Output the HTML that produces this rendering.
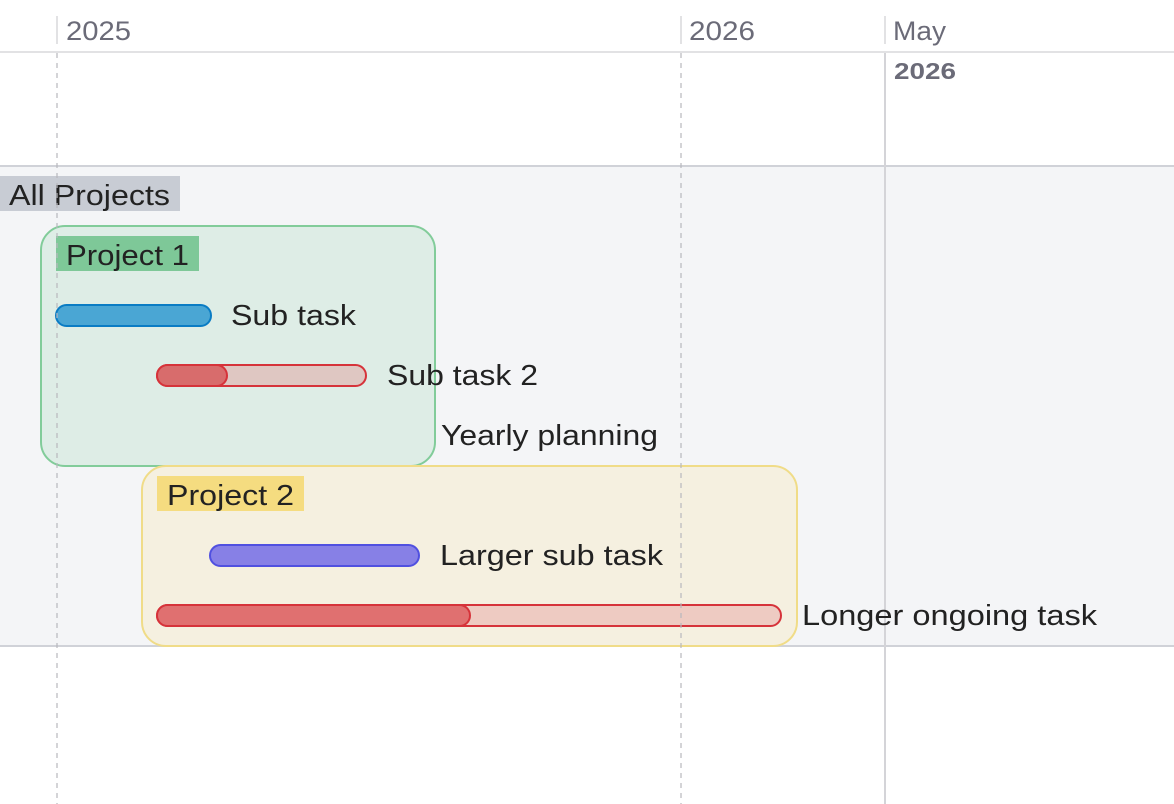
<!DOCTYPE html>
<html><head><meta charset="utf-8"><style>
html,body{margin:0;padding:0;background:#fff;}
svg{display:block;font-family:"Liberation Sans",sans-serif;}
</style></head><body>
<svg width="1174" height="804" viewBox="0 0 1174 804" xmlns="http://www.w3.org/2000/svg">
<rect x="0" y="166" width="1174" height="480" fill="#f4f5f7"/>
<line x1="0" y1="52" x2="1174" y2="52" stroke="#e2e2e4" stroke-width="2"/>
<line x1="0" y1="166" x2="1174" y2="166" stroke="#d0d2d8" stroke-width="2"/>
<line x1="0" y1="646" x2="1174" y2="646" stroke="#d0d2d8" stroke-width="2"/>
<line x1="57" y1="16" x2="57" y2="44" stroke="#e2e2e4" stroke-width="2"/>
<line x1="681" y1="16" x2="681" y2="44" stroke="#e2e2e4" stroke-width="2"/>
<line x1="885" y1="16" x2="885" y2="44" stroke="#e2e2e4" stroke-width="2"/>
<text x="66" y="40" font-size="27" fill="#6b6b78" textLength="65" lengthAdjust="spacingAndGlyphs">2025</text>
<text x="689" y="40" font-size="27" fill="#6b6b78" textLength="66" lengthAdjust="spacingAndGlyphs">2026</text>
<text x="893" y="40" font-size="27" fill="#6b6b78" textLength="53" lengthAdjust="spacingAndGlyphs">May</text>
<text x="894" y="79" font-size="23" font-weight="bold" fill="#6b6b78" textLength="62" lengthAdjust="spacingAndGlyphs">2026</text>
<line x1="885" y1="53" x2="885" y2="804" stroke="#d4d4d8" stroke-width="2"/>

<rect x="0" y="176" width="180" height="35" fill="#c8ccd4"/>
<text x="9" y="205" font-size="29" fill="#222" textLength="161" lengthAdjust="spacingAndGlyphs">All Projects</text>

<rect x="41" y="226" width="394" height="240" rx="24" fill="#deede6" stroke="#82cc9a" stroke-width="2"/>
<rect x="56" y="236" width="143" height="35" fill="#7ec898"/>
<text x="66" y="265" font-size="29" fill="#222" textLength="123" lengthAdjust="spacingAndGlyphs">Project 1</text>
<rect x="56" y="305" width="155" height="21" rx="10.5" fill="#4aa6d4" stroke="#0a7cc4" stroke-width="2"/>
<text x="231" y="325" font-size="29" fill="#222" textLength="125" lengthAdjust="spacingAndGlyphs">Sub task</text>
<rect x="157" y="365" width="209" height="21" rx="10.5" fill="#dfc7c2" stroke="#d6333a" stroke-width="2"/>
<rect x="157" y="365" width="70" height="21" rx="10.5" fill="#d86c6c" stroke="#d6333a" stroke-width="2"/>
<text x="387" y="385" font-size="29" fill="#222" textLength="151" lengthAdjust="spacingAndGlyphs">Sub task 2</text>
<text x="441" y="445" font-size="29" fill="#222" textLength="217" lengthAdjust="spacingAndGlyphs">Yearly planning</text>

<rect x="142" y="466" width="655" height="180" rx="24" fill="#f5f0e0" stroke="#f0dc88" stroke-width="2"/>
<rect x="157" y="476" width="147" height="35" fill="#f5dc80"/>
<text x="167" y="505" font-size="29" fill="#222" textLength="127" lengthAdjust="spacingAndGlyphs">Project 2</text>
<rect x="210" y="545" width="209" height="21" rx="10.5" fill="#8780e6" stroke="#5050e0" stroke-width="2"/>
<text x="440" y="565" font-size="29" fill="#222" textLength="223" lengthAdjust="spacingAndGlyphs">Larger sub task</text>
<rect x="157" y="605" width="624" height="21" rx="10.5" fill="#eecbc2" stroke="#d6333a" stroke-width="2"/>
<rect x="157" y="605" width="313" height="21" rx="10.5" fill="#e07070" stroke="#d6333a" stroke-width="2"/>
<text x="802" y="625" font-size="29" fill="#222" textLength="295" lengthAdjust="spacingAndGlyphs">Longer ongoing task</text>

<line x1="57" y1="53" x2="57" y2="804" stroke="#b8b8be" stroke-width="2" stroke-dasharray="5,5" opacity="0.6"/>
<line x1="681" y1="53" x2="681" y2="804" stroke="#b8b8be" stroke-width="2" stroke-dasharray="5,5" opacity="0.6"/>
</svg>
</body></html>
